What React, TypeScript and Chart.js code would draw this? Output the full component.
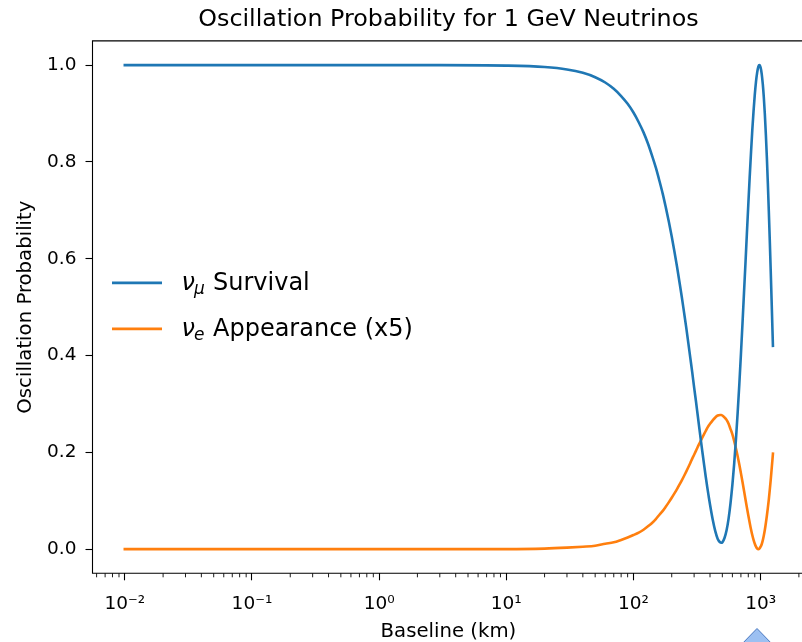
import React, { useEffect, useRef } from 'react';
import { Chart, registerables } from 'chart.js';

Chart.register(...registerables);

// ---- Data ----
const baselineKm = [
  0.01, 0.1, 1, 3, 10,
  20, 30, 40, 50, 60, 70, 80, 90,
  100, 110, 120, 130, 140, 150, 160, 170, 180, 190, 200, 210, 220, 230, 240, 250, 260, 270, 280, 290,
  300, 310, 320, 330, 340, 350, 360, 370, 380, 390, 400,
  420, 440, 460, 480, 490,
  500, 520, 540, 560, 580, 600, 620, 640, 660, 680, 700, 720, 740, 760, 780, 800, 820, 840, 860, 880, 900, 920, 940, 960,
  978,
  1000, 1020, 1040, 1060, 1080, 1100, 1120, 1140, 1160, 1180, 1200, 1220, 1240,
  1250,
];

const numuSurvival = [
  1.0, 1.0, 1.0, 1.0, 0.999,
  0.996, 0.991, 0.984, 0.975, 0.964, 0.951, 0.936, 0.92,
  0.902, 0.882, 0.861, 0.838, 0.813, 0.788, 0.761, 0.734, 0.705, 0.676, 0.646, 0.615, 0.584, 0.552, 0.521, 0.489, 0.458, 0.426, 0.395, 0.365,
  0.334, 0.306, 0.277, 0.249, 0.222, 0.197, 0.173, 0.15, 0.129, 0.11, 0.092,
  0.061, 0.037, 0.021, 0.014, 0.013,
  0.014, 0.023, 0.039, 0.063, 0.095, 0.133, 0.177, 0.227, 0.282, 0.34, 0.402, 0.465, 0.529, 0.59, 0.652, 0.711, 0.767, 0.818, 0.865, 0.905, 0.939, 0.966, 0.985, 0.997,
  1.0,
  0.995, 0.982, 0.961, 0.933, 0.898, 0.856, 0.809, 0.756, 0.699, 0.64, 0.578, 0.515, 0.451,
  0.42,
];

const nueAppearanceX5 = [
  0.0, 0.0, 0.0, 0.0, 0.0,
  0.001, 0.003, 0.005, 0.007, 0.011, 0.014, 0.019, 0.024,
  0.029, 0.034, 0.04, 0.047, 0.054, 0.062, 0.071, 0.079, 0.088, 0.097, 0.106, 0.115, 0.124, 0.133, 0.142, 0.151, 0.16, 0.169, 0.178, 0.187,
  0.195, 0.203, 0.211, 0.218, 0.225, 0.232, 0.238, 0.244, 0.25, 0.255, 0.259,
  0.266, 0.272, 0.276, 0.277, 0.277,
  0.276, 0.272, 0.267, 0.259, 0.248, 0.237, 0.223, 0.208, 0.192, 0.175, 0.157, 0.139, 0.121, 0.103, 0.086, 0.07, 0.055, 0.041, 0.029, 0.019, 0.011, 0.005, 0.001, 0.0,
  0.001,
  0.005, 0.01, 0.018, 0.028, 0.04, 0.054, 0.069, 0.085, 0.102, 0.122, 0.142, 0.164, 0.186,
  0.197,
];

const xTickValues = [0.01, 0.1, 1, 10, 100, 1000];
const xTickLabels = ['10⁻²', '10⁻¹', '10⁰', '10¹', '10²', '10³'];
const yTickValues = [0, 0.2, 0.4, 0.6, 0.8, 1.0];
const yTickLabels = ['0.0', '0.2', '0.4', '0.6', '0.8', '1.0'];

const chartTitle = 'Oscillation Probability for 1 GeV Neutrinos';
const xAxisTitle = 'Baseline (km)';
const yAxisTitle = 'Oscillation Probability';

// legend pieces: greek symbol, subscript, rest of the label
const legendEntries = [
  { sym: 'ν', sub: 'μ', text: 'Survival', color: '#1f77b4' },
  { sym: 'ν', sub: 'e', text: 'Appearance (x5)', color: '#ff7f0e' },
];

const FONT = '"DejaVu Sans", sans-serif';
const CANVAS_W = 840;
const CANVAS_H = 642;
const PLOT_RIGHT = 804.4;
const PLOT_TOP = 40.9;

const decorPlugin = {
  id: 'decor',
  afterDraw(chart: any) {
    const { ctx, chartArea: a, scales } = chart;
    const xs = scales.x;
    ctx.save();

    // title centred over the axes
    ctx.fillStyle = '#000';
    ctx.font = `23.8px ${FONT}`;
    ctx.textAlign = 'center';
    ctx.textBaseline = 'alphabetic';
    ctx.fillText(chartTitle, (a.left + a.right) / 2, 26);

    // minor ticks on log x axis
    ctx.strokeStyle = '#000';
    ctx.lineWidth = 0.9;
    for (let e = -3; e <= 3; e++) {
      for (let m = 2; m <= 9; m++) {
        const v = m * Math.pow(10, e);
        if (v < xs.min || v > xs.max) continue;
        const px = xs.getPixelForValue(v);
        ctx.beginPath();
        ctx.moveTo(px, a.bottom);
        ctx.lineTo(px, a.bottom + 4);
        ctx.stroke();
      }
    }
    // spines
    ctx.lineWidth = 1.1;
    ctx.lineCap = 'square';
    ctx.beginPath();
    ctx.moveTo(a.left, a.bottom);
    ctx.lineTo(a.left, a.top);
    ctx.lineTo(a.right, a.top);
    ctx.moveTo(a.left, a.bottom);
    ctx.lineTo(a.right, a.bottom);
    ctx.lineTo(a.right, a.top);
    ctx.stroke();

    // legend
    const lx0 = a.left + 19.5;
    const lx1 = a.left + 69.5;
    const rows = [a.top + 242, a.top + 288];
    legendEntries.forEach((ent, i) => {
      const y = rows[i];
      ctx.strokeStyle = ent.color;
      ctx.lineWidth = 2.6;
      ctx.lineCap = 'butt';
      ctx.beginPath();
      ctx.moveTo(lx0, y);
      ctx.lineTo(lx1, y);
      ctx.stroke();
      ctx.fillStyle = '#000';
      ctx.textBaseline = 'alphabetic';
      ctx.textAlign = 'left';
      const base = y + 7;
      ctx.font = `italic 24px ${FONT}`;
      const sx = a.left + 89;
      ctx.fillText(ent.sym, sx, base);
      const w = ctx.measureText(ent.sym).width;
      ctx.font = `italic 17px ${FONT}`;
      ctx.fillText(ent.sub, sx + w - 1, base + 4.5);
      ctx.font = `24px ${FONT}`;
      ctx.fillText(ent.text, a.left + 120.5, base);
    });

    // small blue marker at the bottom edge of the picture
    ctx.beginPath();
    ctx.moveTo(757, 628.5);
    ctx.lineTo(739, 647);
    ctx.lineTo(775, 647);
    ctx.closePath();
    ctx.fillStyle = '#9cc0f2';
    ctx.fill();
    ctx.strokeStyle = '#4a78c0';
    ctx.lineWidth = 1;
    ctx.stroke();
    ctx.restore();
  },
};

export default function App() {
  const ref = useRef<HTMLCanvasElement | null>(null);

  useEffect(() => {
    const canvas = ref.current;
    if (!canvas) return;
    const toPts = (ys: number[]) => baselineKm.map((x, i) => ({ x, y: ys[i] }));
    const chart = new Chart(canvas, {
      type: 'line',
      data: {
        datasets: [
          {
            label: 'νμ Survival',
            data: toPts(numuSurvival),
            borderColor: '#1f77b4',
            backgroundColor: '#1f77b4',
            borderWidth: 2.6,
            pointRadius: 0,
            borderCapStyle: 'square',
            cubicInterpolationMode: 'monotone',
            fill: false,
          },
          {
            label: 'νe Appearance (x5)',
            data: toPts(nueAppearanceX5),
            borderColor: '#ff7f0e',
            backgroundColor: '#ff7f0e',
            borderWidth: 2.6,
            pointRadius: 0,
            borderCapStyle: 'square',
            cubicInterpolationMode: 'monotone',
            fill: false,
          },
        ],
      },
      options: {
        responsive: false,
        animation: false,
        devicePixelRatio: 1,
        layout: { padding: { left: 0, right: CANVAS_W - PLOT_RIGHT, top: PLOT_TOP, bottom: 0 } },
        plugins: {
          legend: { display: false },
          tooltip: { enabled: false },
          title: { display: false },
        },
        scales: {
          x: {
            type: 'logarithmic',
            min: 0.00557,
            max: 2210,
            afterBuildTicks: (scale: any) => {
              scale.ticks = xTickValues.map((v) => ({ value: v, major: true }));
            },
            afterFit: (scale: any) => {
              scale.height = CANVAS_H - 573.3;
              scale.paddingLeft = 0;
              scale.paddingRight = 0;
            },
            grid: {
              display: true,
              drawOnChartArea: false,
              drawTicks: true,
              tickLength: 7,
              tickColor: '#000',
              tickWidth: 1.1,
            },
            border: { display: false },
            ticks: {
              autoSkip: false,
              maxRotation: 0,
              padding: 13,
              color: '#000',
              font: { family: FONT, size: 18.5 },
              callback: (_v: any, i: number) => xTickLabels[i],
            },
            title: {
              display: true,
              text: xAxisTitle,
              color: '#000',
              font: { family: FONT, size: 19.7, lineHeight: 1.0 },
              padding: { top: 0, bottom: 0 },
            },
          },
          y: {
            type: 'linear',
            min: -0.05,
            max: 1.05,
            afterBuildTicks: (scale: any) => {
              scale.ticks = yTickValues.map((v) => ({ value: v }));
            },
            afterFit: (scale: any) => {
              scale.width = 92.5;
            },
            grid: {
              display: true,
              drawOnChartArea: false,
              drawTicks: true,
              tickLength: 7,
              tickColor: '#000',
              tickWidth: 1.1,
            },
            border: { display: false },
            ticks: {
              autoSkip: false,
              padding: 9,
              color: '#000',
              font: { family: FONT, size: 18.5 },
              callback: (_v: any, i: number) => yTickLabels[i],
            },
            title: {
              display: true,
              text: yAxisTitle,
              color: '#000',
              font: { family: FONT, size: 19.7, lineHeight: 1.2 },
              padding: { top: 14, bottom: 0 },
            },
          },
        },
      },
      plugins: [decorPlugin],
    });
    return () => chart.destroy();
  }, []);

  return (
    <div
      style={{
        position: 'fixed',
        left: 0,
        top: 0,
        width: 802,
        height: 642,
        overflow: 'hidden',
        background: '#fff',
      }}
    >
      <canvas ref={ref} width={CANVAS_W} height={CANVAS_H} style={{ width: CANVAS_W, height: CANVAS_H, display: 'block' }} />
    </div>
  );
}
